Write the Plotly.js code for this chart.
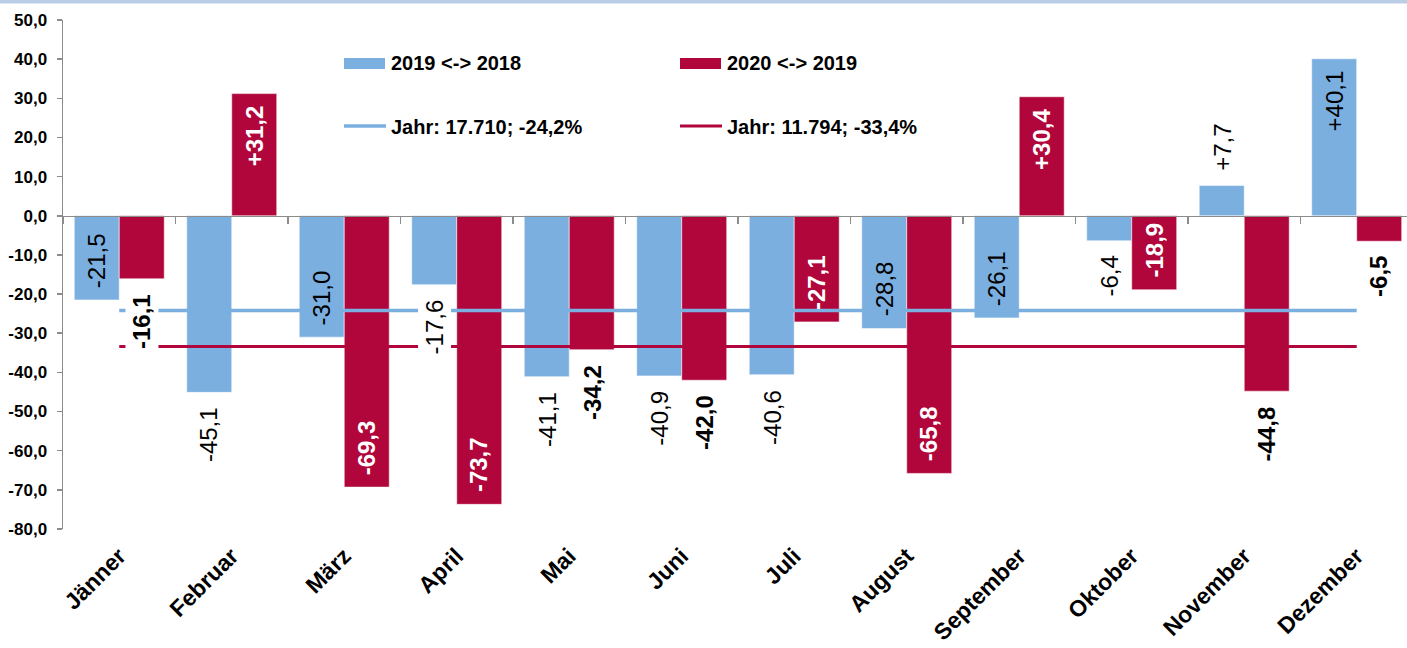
<!DOCTYPE html>
<html>
<head>
<meta charset="utf-8">
<script src="https://cdn.plot.ly/plotly-3.0.1.min.js"></script>
<style>
  html, body { margin: 0; padding: 0; background: #ffffff; }
  #chart { width: 1407px; height: 648px; }
</style>
</head>
<body>
<div id="chart"></div>
<script>
// ---------- data ----------
const months = ['Jänner', 'Februar', 'März', 'April', 'Mai', 'Juni', 'Juli', 'August', 'September', 'Oktober', 'November', 'Dezember'];
const change2019vs2018 = [-21.5, -45.1, -31.0, -17.6, -41.1, -40.9, -40.6, -28.8, -26.1, -6.4, 7.7, 40.1];
const change2020vs2019 = [-16.1, 31.2, -69.3, -73.7, -34.2, -42.0, -27.1, -65.8, 30.4, -18.9, -44.8, -6.5];
const yearAvg2019 = -24.2;
const yearAvg2020 = -33.4;
const barNames = ['2019 <-> 2018', '2020 <-> 2019'];
const lineNames = ['Jahr: 17.710; -24,2%', 'Jahr: 11.794; -33,4%'];
// where each value label sits: inside the bar end or outside it
const labelPlace2019 = ['in', 'out', 'in', 'out', 'out', 'out', 'out', 'in', 'in', 'out', 'out', 'in'];
const labelPlace2020 = ['out', 'in', 'in', 'in', 'out', 'out', 'in', 'in', 'in', 'in', 'out', 'out'];
const yTickVals = [50, 40, 30, 20, 10, 0, -10, -20, -30, -40, -50, -60, -70, -80];

// ---------- styling ----------
const BLUE = '#7aafe0';
const RED = '#b0063b';
const GREY = '#8c8c8c';
const FONT = 'Liberation Sans, Arial, Helvetica, sans-serif';

const fmtNum = v => (v > 0 ? '+' : '') + v.toFixed(1).replace('.', ',');
const fmtTick = v => v.toFixed(1).replace('.', ',');
const esc = s => s.replace(/</g, '&lt;').replace(/>/g, '&gt;');

// plot-area pixel frame (used only to place the hand-drawn legend)
const PL = 63, PR = 1407, PT = 20, PB = 529;
const fx = px => (px - PL) / (PR - PL);
const fy = py => (PB - py) / (PB - PT);

const traces = [
  {
    type: 'bar', name: barNames[0], x: months, y: change2019vs2018,
    marker: { color: BLUE, line: { color: 'rgba(255,255,255,0.55)', width: 1 } },
    showlegend: false, hoverinfo: 'x+y'
  },
  {
    type: 'bar', name: barNames[1], x: months, y: change2020vs2019,
    marker: { color: RED, line: { color: 'rgba(255,255,255,0.55)', width: 1 } },
    showlegend: false, hoverinfo: 'x+y'
  },
  {
    type: 'scatter', mode: 'lines', name: lineNames[0], x: months, y: months.map(() => yearAvg2019),
    xaxis: 'x2', yaxis: 'y', line: { color: BLUE, width: 3.5 }, showlegend: false, hoverinfo: 'y'
  },
  {
    type: 'scatter', mode: 'lines', name: lineNames[1], x: months, y: months.map(() => yearAvg2020),
    xaxis: 'x2', yaxis: 'y', line: { color: RED, width: 3 }, showlegend: false, hoverinfo: 'y'
  }
];

// ---------- value labels ----------
const annotations = [];
const GAP_IN = 9, GAP_OUT = 12;
function addLabels(values, places, offset, bold, isRed) {
  values.forEach((v, i) => {
    const inside = places[i] === 'in';
    const neg = v < 0;
    let yanchor, yshift;
    if (neg) {
      yanchor = inside ? 'bottom' : 'top';
      yshift = inside ? GAP_IN : -GAP_OUT;
    } else {
      yanchor = inside ? 'top' : 'bottom';
      yshift = inside ? -GAP_IN : GAP_OUT;
    }
    annotations.push({
      x: i + offset, y: v, xref: 'x', yref: 'y',
      text: fmtNum(v), showarrow: false, textangle: -90,
      xanchor: 'center', yanchor: yanchor, yshift: yshift,
      font: { family: FONT, size: 24, color: (isRed && inside) ? '#ffffff' : '#000000', weight: bold ? 'bold' : 'normal' },
      bgcolor: inside ? 'rgba(0,0,0,0)' : '#ffffff',
      borderpad: 3, borderwidth: 0
    });
  });
}
addLabels(change2019vs2018, labelPlace2019, -0.2, false, false);
addLabels(change2020vs2019, labelPlace2020, 0.2, true, true);

// ---------- legend (drawn by hand) ----------
const legendFont = { family: FONT, size: 20, color: '#000000', weight: 'bold' };
const legendItems = [
  { text: barNames[0], tx: 389, ty: 63 },
  { text: barNames[1], tx: 725, ty: 63 },
  { text: lineNames[0], tx: 389, ty: 127 },
  { text: lineNames[1], tx: 725, ty: 127 }
];
legendItems.forEach(it => annotations.push({
  xref: 'paper', yref: 'paper', x: fx(it.tx), y: fy(it.ty),
  xanchor: 'left', yanchor: 'middle', showarrow: false,
  text: esc(it.text), font: legendFont
}));

const shapes = [
  // thin band along the top edge
  { type: 'rect', xref: 'paper', yref: 'paper', x0: fx(0), x1: fx(1407), y0: fy(3.5), y1: fy(0),
    fillcolor: '#b9cde5', line: { width: 0 }, layer: 'above' },
  // legend swatches
  { type: 'rect', xref: 'paper', yref: 'paper', x0: fx(344), x1: fx(385), y0: fy(69), y1: fy(58),
    fillcolor: BLUE, line: { width: 0 } },
  { type: 'rect', xref: 'paper', yref: 'paper', x0: fx(680), x1: fx(721), y0: fy(69), y1: fy(58),
    fillcolor: RED, line: { width: 0 } },
  { type: 'line', xref: 'paper', yref: 'paper', x0: fx(344), x1: fx(386), y0: fy(126), y1: fy(126),
    line: { color: BLUE, width: 3.5 } },
  { type: 'line', xref: 'paper', yref: 'paper', x0: fx(680), x1: fx(722), y0: fy(126), y1: fy(126),
    line: { color: RED, width: 3 } }
];

const yMin = yTickVals[yTickVals.length - 1], yMax = yTickVals[0];
const xRange = [-0.5, 11.447];

const layout = {
  width: 1407, height: 648,
  margin: { l: PL, r: 0, t: PT, b: 648 - PB, pad: 0 },
  paper_bgcolor: '#ffffff', plot_bgcolor: '#ffffff',
  font: { family: FONT, color: '#000000' },
  barmode: 'group', bargap: 0.2, bargroupgap: 0,
  showlegend: false,
  xaxis: {
    type: 'category', categoryorder: 'array', categoryarray: months, range: xRange,
    showline: false, ticks: '', showgrid: false, zeroline: false,
    tickangle: -45, ticklabelstandoff: 8,
    tickfont: { family: FONT, size: 23, color: '#000000', weight: 'bold' },
    automargin: false, fixedrange: true
  },
  xaxis2: {
    type: 'category', categoryorder: 'array', categoryarray: months, range: xRange,
    overlaying: 'x', anchor: 'free', position: (0 - yMin) / (yMax - yMin),
    showline: true, linecolor: GREY, linewidth: 1.5,
    ticks: 'outside', tickson: 'boundaries', ticklen: 7, tickcolor: GREY, tickwidth: 1.5,
    showticklabels: false, showgrid: false, zeroline: false, automargin: false, fixedrange: true
  },
  yaxis: {
    range: [yMin, yMax], tickvals: yTickVals, ticktext: yTickVals.map(fmtTick),
    showline: true, linecolor: GREY, linewidth: 1.5,
    ticks: 'outside', ticklen: 5, tickcolor: GREY, tickwidth: 1.5,
    ticklabelstandoff: 6,
    tickfont: { family: FONT, size: 17, color: '#000000', weight: 'bold' },
    showgrid: false, zeroline: false, automargin: false, fixedrange: true
  },
  annotations: annotations,
  shapes: shapes
};

Plotly.newPlot('chart', traces, layout, { displayModeBar: false, staticPlot: true });
</script>
</body>
</html>
